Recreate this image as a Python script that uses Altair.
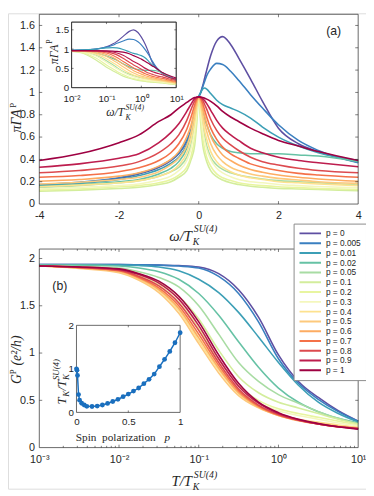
import altair as alt
import pandas as pd

W, H = 366, 486
INK = "#262626"

P_LABELS = ["0", "0.005", "0.01", "0.02", "0.05", "0.1", "0.2", "0.3", "0.4", "0.5",
            "0.6", "0.7", "0.8", "0.9", "1"]
LEG_LABELS = ["p = " + s for s in P_LABELS]
COLORS = ["#5e4fa2", "#3a7fc0", "#3c9fb6", "#66c2a5", "#a8dca3", "#d3ed9c", "#e8f5a0",
          "#f4f7bd", "#fde28f", "#fdc97c", "#fdac62", "#f47149", "#dc4a4f", "#bd1d4e", "#9e0142"]

# ---- panel (a): spectral function, omega < 0 and omega >= 0
W_NEG = [-4, -3, -2, -1.5, -1, -0.7, -0.5, -0.3, -0.2, -0.1, -0.05]
W_POS = [0, 0.01, 0.02, 0.05, 0.1, 0.15, 0.2, 0.3, 0.45, 0.6, 0.8, 1.0, 1.3, 1.6, 2.0,
         2.5, 3.0, 4.0, 6.0, 10.0]
A_NEG = [
    [0.17, 0.19, 0.23, 0.27, 0.33, 0.39, 0.45, 0.56, 0.65, 0.78, 0.87],
    [0.175, 0.195, 0.235, 0.275, 0.335, 0.395, 0.455, 0.57, 0.66, 0.79, 0.875],
    [0.165, 0.185, 0.22, 0.255, 0.31, 0.365, 0.42, 0.53, 0.63, 0.77, 0.86],
    [0.16, 0.175, 0.2, 0.22, 0.27, 0.32, 0.38, 0.5, 0.62, 0.8, 0.88],
    [0.15, 0.165, 0.19, 0.21, 0.25, 0.29, 0.33, 0.42, 0.52, 0.7, 0.84],
    [0.115, 0.125, 0.14, 0.15, 0.175, 0.2, 0.24, 0.3, 0.39, 0.53, 0.72],
    [0.125, 0.135, 0.155, 0.165, 0.19, 0.22, 0.26, 0.33, 0.42, 0.6, 0.78],
    [0.135, 0.15, 0.165, 0.18, 0.215, 0.25, 0.3, 0.39, 0.49, 0.67, 0.82],
    [0.155, 0.17, 0.19, 0.21, 0.25, 0.29, 0.35, 0.46, 0.57, 0.74, 0.86],
    [0.18, 0.195, 0.22, 0.24, 0.29, 0.35, 0.41, 0.52, 0.63, 0.8, 0.89],
    [0.205, 0.22, 0.25, 0.28, 0.34, 0.4, 0.47, 0.6, 0.7, 0.85, 0.92],
    [0.24, 0.255, 0.29, 0.325, 0.39, 0.46, 0.54, 0.67, 0.77, 0.89, 0.94],
    [0.28, 0.3, 0.34, 0.38, 0.46, 0.54, 0.62, 0.75, 0.84, 0.925, 0.95],
    [0.33, 0.36, 0.41, 0.45, 0.55, 0.64, 0.72, 0.83, 0.89, 0.945, 0.955],
    [0.39, 0.45, 0.55, 0.62, 0.74, 0.8, 0.86, 0.91, 0.935, 0.955, 0.958],
]
A_POS = [
    [0.96, 0.97, 0.975, 1.0, 1.06, 1.13, 1.2, 1.33, 1.46, 1.5, 1.43, 1.31, 1.12, 0.92, 0.68, 0.54, 0.47, 0.375, 0.29, 0.21],
    [0.96, 0.97, 0.975, 1.0, 1.05, 1.1, 1.15, 1.21, 1.26, 1.25, 1.19, 1.11, 0.98, 0.86, 0.71, 0.57, 0.48, 0.37, 0.29, 0.21],
    [0.96, 0.97, 0.98, 1.0, 1.03, 1.04, 1.03, 0.99, 0.93, 0.89, 0.86, 0.83, 0.77, 0.69, 0.6, 0.52, 0.46, 0.39, 0.3, 0.2],
    [0.96, 0.96, 0.95, 0.9, 0.82, 0.76, 0.71, 0.62, 0.54, 0.5, 0.47, 0.46, 0.45, 0.45, 0.45, 0.44, 0.43, 0.38, 0.28, 0.18],
    [0.96, 0.95, 0.93, 0.84, 0.7, 0.6, 0.52, 0.42, 0.35, 0.31, 0.28, 0.26, 0.24, 0.225, 0.21, 0.2, 0.19, 0.17, 0.14, 0.1],
    [0.96, 0.94, 0.9, 0.72, 0.53, 0.44, 0.38, 0.3, 0.245, 0.215, 0.19, 0.175, 0.16, 0.15, 0.14, 0.135, 0.13, 0.12, 0.1, 0.08],
    [0.96, 0.945, 0.91, 0.77, 0.59, 0.49, 0.42, 0.34, 0.27, 0.235, 0.21, 0.19, 0.175, 0.165, 0.155, 0.147, 0.14, 0.13, 0.11, 0.09],
    [0.96, 0.95, 0.93, 0.82, 0.66, 0.56, 0.49, 0.4, 0.32, 0.28, 0.245, 0.22, 0.2, 0.19, 0.175, 0.165, 0.157, 0.145, 0.12, 0.1],
    [0.96, 0.955, 0.94, 0.87, 0.75, 0.65, 0.58, 0.47, 0.38, 0.33, 0.29, 0.26, 0.235, 0.22, 0.2, 0.19, 0.18, 0.165, 0.14, 0.11],
    [0.96, 0.957, 0.95, 0.9, 0.81, 0.72, 0.65, 0.54, 0.44, 0.38, 0.33, 0.3, 0.27, 0.25, 0.23, 0.215, 0.2, 0.185, 0.155, 0.12],
    [0.96, 0.958, 0.955, 0.93, 0.86, 0.79, 0.72, 0.61, 0.51, 0.44, 0.39, 0.35, 0.31, 0.285, 0.26, 0.24, 0.225, 0.205, 0.175, 0.14],
    [0.96, 0.959, 0.957, 0.945, 0.9, 0.84, 0.78, 0.68, 0.58, 0.51, 0.45, 0.41, 0.36, 0.33, 0.3, 0.275, 0.26, 0.24, 0.2, 0.16],
    [0.96, 0.96, 0.958, 0.952, 0.93, 0.89, 0.85, 0.76, 0.66, 0.59, 0.53, 0.48, 0.42, 0.38, 0.35, 0.32, 0.3, 0.28, 0.23, 0.19],
    [0.96, 0.96, 0.959, 0.956, 0.945, 0.925, 0.9, 0.84, 0.75, 0.68, 0.62, 0.57, 0.5, 0.46, 0.42, 0.39, 0.37, 0.335, 0.27, 0.22],
    [0.96, 0.96, 0.96, 0.958, 0.955, 0.948, 0.94, 0.92, 0.88, 0.83, 0.78, 0.74, 0.68, 0.63, 0.57, 0.52, 0.47, 0.39, 0.32, 0.25],
]

# ---- panel (b): conductance vs temperature
T_GRID = [0.001, 0.00316, 0.01, 0.0178, 0.0316, 0.0562, 0.1, 0.178, 0.316, 0.562, 1.0,
          1.78, 3.16, 5.62, 10.0]
G_CURVES = [
    [1.935, 1.935, 1.935, 1.933, 1.93, 1.925, 1.91, 1.84, 1.67, 1.38, 0.98, 0.7, 0.53, 0.39, 0.28],
    [1.935, 1.935, 1.935, 1.933, 1.93, 1.92, 1.9, 1.81, 1.63, 1.33, 0.94, 0.68, 0.51, 0.38, 0.28],
    [1.93, 1.93, 1.93, 1.925, 1.91, 1.87, 1.78, 1.64, 1.43, 1.17, 0.9, 0.66, 0.48, 0.36, 0.27],
    [1.93, 1.93, 1.92, 1.9, 1.86, 1.78, 1.63, 1.4, 1.12, 0.85, 0.63, 0.48, 0.38, 0.31, 0.26],
    [1.925, 1.915, 1.9, 1.86, 1.8, 1.7, 1.5, 1.2, 0.9, 0.7, 0.56, 0.47, 0.38, 0.31, 0.25],
    [1.92, 1.91, 1.89, 1.84, 1.75, 1.6, 1.36, 1.03, 0.75, 0.58, 0.48, 0.42, 0.36, 0.3, 0.25],
    [1.92, 1.91, 1.88, 1.82, 1.72, 1.54, 1.26, 0.93, 0.66, 0.5, 0.41, 0.36, 0.32, 0.28, 0.24],
    [1.92, 1.905, 1.87, 1.79, 1.68, 1.48, 1.18, 0.86, 0.61, 0.47, 0.39, 0.34, 0.3, 0.26, 0.23],
    [1.92, 1.9, 1.86, 1.78, 1.66, 1.45, 1.13, 0.82, 0.57, 0.43, 0.35, 0.3, 0.27, 0.24, 0.215],
    [1.92, 1.895, 1.85, 1.77, 1.64, 1.42, 1.1, 0.79, 0.55, 0.42, 0.34, 0.29, 0.26, 0.23, 0.21],
    [1.92, 1.9, 1.865, 1.79, 1.67, 1.47, 1.16, 0.84, 0.58, 0.43, 0.34, 0.285, 0.25, 0.22, 0.205],
    [1.92, 1.905, 1.87, 1.8, 1.69, 1.5, 1.2, 0.87, 0.6, 0.44, 0.345, 0.29, 0.25, 0.22, 0.205],
    [1.92, 1.905, 1.875, 1.81, 1.71, 1.53, 1.24, 0.9, 0.62, 0.45, 0.35, 0.29, 0.25, 0.22, 0.2],
    [1.92, 1.91, 1.885, 1.83, 1.74, 1.57, 1.29, 0.94, 0.65, 0.47, 0.36, 0.295, 0.25, 0.22, 0.2],
    [1.92, 1.91, 1.89, 1.84, 1.76, 1.6, 1.33, 0.98, 0.68, 0.48, 0.37, 0.3, 0.255, 0.22, 0.195],
]

# ---- inset (b): Kondo temperature vs spin polarization
INSET_P = [0, 0.005, 0.01, 0.02, 0.03, 0.05, 0.075, 0.1, 0.15, 0.2, 0.25, 0.3, 0.35, 0.4,
           0.45, 0.5, 0.55, 0.6, 0.65, 0.7, 0.75, 0.8, 0.85, 0.9, 0.95, 1.0]
INSET_TK = [1.0, 0.97, 0.85, 0.41, 0.28, 0.21, 0.17, 0.14, 0.135, 0.145, 0.17, 0.205, 0.25,
            0.3, 0.36, 0.42, 0.49, 0.56, 0.66, 0.76, 0.88, 1.05, 1.22, 1.4, 1.6, 1.83]

# ---------------- build tables
rows_a = []
for i, lab in enumerate(LEG_LABELS):
    for w, a in zip(W_NEG + W_POS, A_NEG[i] + A_POS[i]):
        rows_a.append({"s": lab, "w": w, "a": a})
df_a = pd.DataFrame(rows_a)
df_a_main = df_a[df_a["w"] <= 4]
df_a_in = df_a[df_a["w"] > 0]

rows_b = []
for i, lab in enumerate(LEG_LABELS):
    for t, g in zip(T_GRID, G_CURVES[i]):
        rows_b.append({"s": lab, "t": t, "g": g})
df_b = pd.DataFrame(rows_b)
df_bi = pd.DataFrame({"p": INSET_P, "tk": INSET_TK})


# ---------------- scales (pixel ranges place the panels)
def sc_a_x():
    return alt.Scale(domain=[-4, 4], range=[32, 358], nice=False, zero=False)


def sc_a_y():
    return alt.Scale(domain=[0, 1.7], range=[195, 1], nice=False, zero=False)


def sc_ai_x():
    return alt.Scale(type="log", domain=[0.01, 10], range=[65, 172], nice=False)


def sc_ai_y():
    return alt.Scale(domain=[0, 1.7], range=[76, 9], nice=False, zero=False)


def sc_b_x():
    return alt.Scale(type="log", domain=[0.001, 10], range=[32, 358], nice=False)


def sc_b_y():
    return alt.Scale(domain=[0, 2.1], range=[444, 241], nice=False, zero=False)


def sc_bi_x():
    return alt.Scale(domain=[0, 1], range=[70, 176], nice=False, zero=False)


def sc_bi_y():
    return alt.Scale(domain=[0, 2], range=[408, 319], nice=False, zero=False)


LOG_EXPR = ("datum.value < 0.005 ? '10⁻³' : datum.value < 0.05 ? '10⁻²' : "
            "datum.value < 0.5 ? '10⁻¹' : datum.value < 5 ? '10⁰' : '10¹'")


def axis(orient, offset, values, fs=11, fmt=None, expr=None, pad=4):
    kw = dict(orient=orient, offset=offset, values=values, domain=False, ticks=False,
              grid=False, title=None, labelFont="Liberation Sans",
              labelFontSize=fs, labelColor=INK, labelFlush=False, labelOverlap=False,
              labelPadding=pad, zindex=1)
    if fmt:
        kw["format"] = fmt
    if expr:
        kw["labelExpr"] = expr
    return alt.Axis(**kw)


LEGEND = alt.Legend(orient="none", legendX=292, legendY=215, title=None,
                    symbolType="stroke", symbolSize=484, symbolStrokeWidth=2,
                    labelFont="Liberation Sans", labelFontSize=8.5, labelColor=INK,
                    clipHeight=10, rowPadding=0, padding=5, labelOffset=4,
                    strokeColor="#8a8a8a", fillColor="white", zindex=2)
COLOR = alt.Color("s:N", scale=alt.Scale(domain=LEG_LABELS, range=COLORS), legend=LEGEND)


def frame(xsc, ysc, xd, yd, white=False):
    df = pd.DataFrame({"x": [xd[0]], "x2": [xd[1]], "y": [yd[0]], "y2": [yd[1]]})
    if white:
        mk = alt.Chart(df).mark_rect(fill="white", stroke=INK, strokeWidth=0.7)
    else:
        mk = alt.Chart(df).mark_rect(fill="white", fillOpacity=0, stroke=INK,
                                     strokeWidth=0.7, strokeOpacity=1)
    return mk.encode(x=alt.X("x:Q", scale=xsc, axis=None), x2="x2:Q",
                     y=alt.Y("y:Q", scale=ysc, axis=None), y2="y2:Q")


def ticks(xsc, ysc, xd, yd, xt, yt, lx, ly, xlog=False, xminor=()):
    rows = []
    for v in xt:
        rows.append({"x": v, "x2": v, "y": yd[0], "y2": yd[0] + ly})
        rows.append({"x": v, "x2": v, "y": yd[1], "y2": yd[1] - ly})
    for v in xminor:
        rows.append({"x": v, "x2": v, "y": yd[0], "y2": yd[0] + 0.6 * ly})
        rows.append({"x": v, "x2": v, "y": yd[1], "y2": yd[1] - 0.6 * ly})
    for v in yt:
        if xlog:
            rows.append({"x": xd[0], "x2": xd[0] * lx, "y": v, "y2": v})
            rows.append({"x": xd[1], "x2": xd[1] / lx, "y": v, "y2": v})
        else:
            rows.append({"x": xd[0], "x2": xd[0] + lx, "y": v, "y2": v})
            rows.append({"x": xd[1], "x2": xd[1] - lx, "y": v, "y2": v})
    return alt.Chart(pd.DataFrame(rows)).mark_rule(color=INK, strokeWidth=0.6).encode(
        x=alt.X("x:Q", scale=xsc, axis=None), x2="x2:Q",
        y=alt.Y("y:Q", scale=ysc, axis=None), y2="y2:Q")


layers = []

# ---------------- panel (a)
layers.append(alt.Chart(df_a_main).mark_line(strokeWidth=1.6, interpolate="monotone").encode(
    x=alt.X("w:Q", scale=sc_a_x(),
            axis=axis("bottom", 195 - H, [-4, -2, 0, 2, 4], expr="'' + datum.value", pad=6)),
    y=alt.Y("a:Q", scale=sc_a_y(),
            axis=axis("left", -32, [0, 0.2, 0.4, 0.6, 0.8, 1, 1.2, 1.4, 1.6], fmt="~g", pad=5)),
    color=COLOR))
layers.append(ticks(sc_a_x(), sc_a_y(), [-4, 4], [0, 1.7], [-2, 0, 2],
                    [0.2, 0.4, 0.6, 0.8, 1, 1.2, 1.4, 1.6], 0.0736, 0.0263))
layers.append(frame(sc_a_x(), sc_a_y(), [-4, 4], [0, 1.7]))

# ---------------- inset (a)
layers.append(frame(sc_ai_x(), sc_ai_y(), [0.01, 10], [0, 1.7], white=True))
layers.append(alt.Chart(df_a_in).mark_line(strokeWidth=1.2, interpolate="monotone").encode(
    x=alt.X("w:Q", scale=sc_ai_x(),
            axis=axis("bottom", 76 - H, [0.01, 0.1, 1, 10], fs=10, expr=LOG_EXPR, pad=6)),
    y=alt.Y("a:Q", scale=sc_ai_y(),
            axis=axis("left", -65, [0, 0.5, 1, 1.5], fs=10, fmt="~g", pad=3)),
    color=COLOR))
layers.append(ticks(sc_ai_x(), sc_ai_y(), [0.01, 10], [0, 1.7], [0.1, 1], [0.5, 1, 1.5],
                    1.138, 0.0507, xlog=True))
layers.append(frame(sc_ai_x(), sc_ai_y(), [0.01, 10], [0, 1.7]))

# ---------------- panel (b)
layers.append(alt.Chart(df_b).mark_line(strokeWidth=1.6, interpolate="monotone").encode(
    x=alt.X("t:Q", scale=sc_b_x(),
            axis=axis("bottom", 444 - H, [0.001, 0.01, 0.1, 1, 10], expr=LOG_EXPR, pad=6)),
    y=alt.Y("g:Q", scale=sc_b_y(),
            axis=axis("left", -32, [0, 0.5, 1, 1.5, 2], fmt="~g", pad=5)),
    color=COLOR))
minor_b = [k * 10.0 ** d for d in (-3, -2, -1, 0) for k in range(2, 10)]
layers.append(ticks(sc_b_x(), sc_b_y(), [0.001, 10], [0, 2.1], [0.01, 0.1, 1],
                    [0.5, 1, 1.5, 2], 1.088, 0.031, xlog=True, xminor=minor_b))
layers.append(frame(sc_b_x(), sc_b_y(), [0.001, 10], [0, 2.1]))

# ---------------- inset (b)
INSET_BLUE = "#1a6fbe"
layers.append(frame(sc_bi_x(), sc_bi_y(), [0, 1], [0, 2], white=True))
layers.append(ticks(sc_bi_x(), sc_bi_y(), [0, 1], [0, 2], [0.5], [1], 0.019, 0.045))
layers.append(alt.Chart(df_bi).mark_line(color=INSET_BLUE, strokeWidth=1.5).encode(
    x=alt.X("p:Q", scale=sc_bi_x(),
            axis=axis("bottom", 408 - H, [0, 0.5, 1], fs=10, fmt="~g", pad=4)),
    y=alt.Y("tk:Q", scale=sc_bi_y(),
            axis=axis("left", -70, [0, 1, 2], fs=10, fmt="~g", pad=3))))
layers.append(alt.Chart(df_bi).mark_circle(color=INSET_BLUE, size=24, opacity=1).encode(
    x=alt.X("p:Q", scale=sc_bi_x(), axis=None), y=alt.Y("tk:Q", scale=sc_bi_y(), axis=None)))

# ---------------- text (titles and labels)
DUMMY = pd.DataFrame({"d": [0]})


def txt(s, x, y, size, font="Liberation Serif", style="italic", align="left", angle=0):
    mk = dict(text=s, font=font, fontSize=size, fontStyle=style, align=align,
              baseline="alphabetic", color=INK)
    if angle:
        mk["angle"] = angle
    return alt.Chart(DUMMY).mark_text(**mk).encode(x=alt.value(x), y=alt.value(y))


texts = [
    # panel (a) x title
    txt("ω/T", 188, 233, 15, align="right"),
    txt("K", 189, 237, 10),
    txt("SU(4)", 190, 224, 10),
    # panel (b) x title
    txt("T/T", 188, 483, 15, align="right"),
    txt("K", 189, 487, 10),
    txt("SU(4)", 190, 475, 10),
    # inset (a) x title
    txt("ω/T", 119, 105, 12, align="right"),
    txt("K", 120, 109, 8),
    txt("SU(4)", 120, 98.5, 8),
    # panel (a) y title
    txt("πΓA", 13, 110, 14, align="center", angle=270),
    txt("P", 8, 96.5, 9, style="normal", angle=270),
    # inset (a) y title
    txt("πΓA", 51, 42, 12, align="center", angle=270),
    txt("P", 45, 31, 8, style="normal", angle=270),
    # panel (b) y title
    txt("G", 13, 379, 14, angle=270),
    txt("P", 8, 369, 9, style="normal", angle=270),
    txt("(e²/h)", 13, 360, 14, angle=270),
    # inset (b) y title
    txt("T", 59, 400, 13, angle=270),
    txt("K", 62, 392, 9, angle=270),
    txt("/T", 59, 386, 13, angle=270),
    txt("K", 62, 375, 9, angle=270),
    txt("SU(4)", 52, 375, 9, angle=270),
    # inset (b) x title
    txt("Spin\u2002polarization", 151, 437, 11.5, style="normal", align="right"),
    txt("p", 160, 437, 11.5),
    # panel labels
    txt("(a)", 333, 22, 12.5, font="Liberation Sans", style="normal", align="center"),
    txt("(b)", 53, 283, 12.5, font="Liberation Sans", style="normal", align="center"),
]

chart = alt.layer(*layers, *texts).resolve_scale(
    x="independent", y="independent"
).resolve_axis(
    x="independent", y="independent"
).properties(
    width=W, height=H,
    autosize=alt.AutoSizeParams(type="none"),
    padding={"left": 0, "top": 0, "right": 0, "bottom": 0},
).configure_view(stroke=None).configure(background="white")

chart.save("out.html", embed_options={"renderer": "svg", "actions": False})
